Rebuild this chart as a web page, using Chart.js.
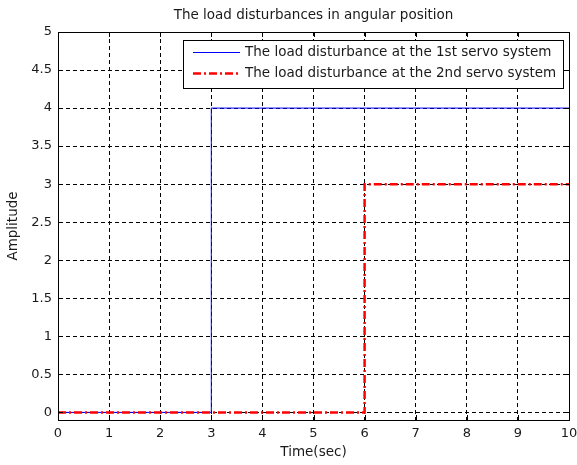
<!DOCTYPE html>
<html>
<head>
<meta charset="utf-8">
<script src="https://cdn.jsdelivr.net/npm/chart.js@4/dist/chart.umd.min.js"></script>
<style>
  html, body { margin: 0; padding: 0; background: #fff; }
  #wrap { width: 577px; height: 465px; position: relative; }
</style>
</head>
<body>
<div id="wrap"><canvas id="c" width="577" height="465"></canvas></div>
<script>
const chartTitle = 'The load disturbances in angular position';
const xTitle = 'Time(sec)';
const yTitle = 'Amplitude';
const series1Label = 'The load disturbance at the 1st servo system';
const series2Label = 'The load disturbance at the 2nd servo system';
const time1 = [0, 3, 3, 10];
const amp1 = [0, 0, 4, 4];
const time2 = [0, 6, 6, 10];
const amp2 = [0, 0, 3, 3];
const xTickValues = [0, 1, 2, 3, 4, 5, 6, 7, 8, 9, 10];
const yTickValues = [0, 0.5, 1, 1.5, 2, 2.5, 3, 3.5, 4, 4.5, 5];
const xMin = 0, xMax = 10, yMin = -0.1, yMax = 5;

const FONT = '"DejaVu Sans", sans-serif';
const TEXT = '#1a1a1a';
const RED_DASH = [8, 3, 2, 3];
const GRID_DASH = [4, 3];

const toPts = (xs, ys) => xs.map((x, i) => ({ x, y: ys[i] }));

const framePlugin = {
  id: 'frame',
  afterDatasetsDraw(chart) {
    const { ctx, chartArea: a, scales } = chart;
    ctx.save();
    ctx.strokeStyle = '#000';
    ctx.lineWidth = 1;
    ctx.setLineDash([]);
    ctx.beginPath();
    const tl = 5;
    xTickValues.forEach(v => {
      const px = Math.round(scales.x.getPixelForValue(v)) + 0.5;
      ctx.moveTo(px, a.bottom); ctx.lineTo(px, a.bottom - tl);
      ctx.moveTo(px, a.top); ctx.lineTo(px, a.top + tl);
    });
    yTickValues.forEach(v => {
      const py = Math.round(scales.y.getPixelForValue(v)) + 0.5;
      ctx.moveTo(a.left, py); ctx.lineTo(a.left + tl, py);
      ctx.moveTo(a.right, py); ctx.lineTo(a.right - tl, py);
    });
    ctx.stroke();
    ctx.strokeRect(Math.round(a.left) + 0.5, Math.round(a.top) + 0.5,
      Math.round(a.right - a.left), Math.round(a.bottom - a.top));

    // legend
    const lx = 183, ly = 40, lw = 380, lh = 48;
    ctx.fillStyle = '#fff';
    ctx.fillRect(lx, ly, lw, lh);
    ctx.strokeStyle = '#000';
    ctx.strokeRect(lx + 0.5, ly + 0.5, lw, lh);
    const ds = chart.data.datasets;
    const rows = [ly + 12.5, ly + 33.5];
    [1, 0].forEach((di, r) => {
      const d = ds[di];
      ctx.beginPath();
      ctx.strokeStyle = d.borderColor;
      ctx.lineWidth = d.borderWidth;
      ctx.setLineDash(d.borderDash || []);
      ctx.moveTo(lx + 10, rows[r]);
      ctx.lineTo(lx + 57, rows[r]);
      ctx.stroke();
      ctx.setLineDash([]);
      ctx.fillStyle = TEXT;
      ctx.font = '13.5px ' + FONT;
      ctx.textBaseline = 'middle';
      ctx.textAlign = 'left';
      ctx.fillText(d.label, lx + 62, rows[r]);
    });

    // title
    ctx.fillStyle = TEXT;
    ctx.font = '13.5px ' + FONT;
    ctx.textAlign = 'center';
    ctx.textBaseline = 'middle';
    ctx.fillText(chartTitle, (a.left + a.right) / 2, 15);
    ctx.restore();
  }
};

new Chart(document.getElementById('c'), {
  type: 'line',
  data: {
    datasets: [
      {
        label: series2Label,
        data: toPts(time2, amp2),
        borderColor: '#ff0000',
        borderWidth: 2.5,
        borderDash: RED_DASH,
        pointRadius: 0,
        tension: 0,
        fill: false,
        order: 0
      },
      {
        label: series1Label,
        data: toPts(time1, amp1),
        borderColor: '#0000ff',
        borderWidth: 1,
        pointRadius: 0,
        tension: 0,
        fill: false,
        order: 1
      }
    ]
  },
  options: {
    responsive: false,
    animation: false,
    devicePixelRatio: 1,
    layout: { padding: { left: 0, right: 8, top: 32, bottom: 0 } },
    plugins: {
      legend: { display: false },
      title: { display: false },
      tooltip: { enabled: false }
    },
    scales: {
      x: {
        type: 'linear',
        min: xMin, max: xMax,
        afterBuildTicks: s => { s.ticks = xTickValues.map(v => ({ value: v })); },
        afterFit: s => { s.height = 45; s.paddingLeft = 0; s.paddingRight = 0; },
        grid: { color: '#000', lineWidth: 1, drawTicks: false },
        border: { display: true, color: '#000', dash: GRID_DASH },
        ticks: { color: TEXT, font: { family: FONT, size: 13 }, padding: 6, maxRotation: 0, autoSkip: false },
        title: { display: true, text: xTitle, color: TEXT, font: { family: FONT, size: 13.5 }, padding: { top: 0, bottom: 4 } }
      },
      y: {
        type: 'linear',
        min: yMin, max: yMax,
        afterBuildTicks: s => { s.ticks = yTickValues.map(v => ({ value: v })); },
        afterFit: s => { s.width = 58; s.paddingTop = 0; s.paddingBottom = 0; },
        grid: { color: '#000', lineWidth: 1, drawTicks: false },
        border: { display: true, color: '#000', dash: GRID_DASH },
        ticks: { color: TEXT, font: { family: FONT, size: 13 }, padding: 6, autoSkip: false,
          callback: v => String(v) },
        title: { display: true, text: yTitle, color: TEXT, font: { family: FONT, size: 13.5 }, padding: { top: 5, bottom: 0 } }
      }
    }
  },
  plugins: [framePlugin]
});
</script>
</body>
</html>
